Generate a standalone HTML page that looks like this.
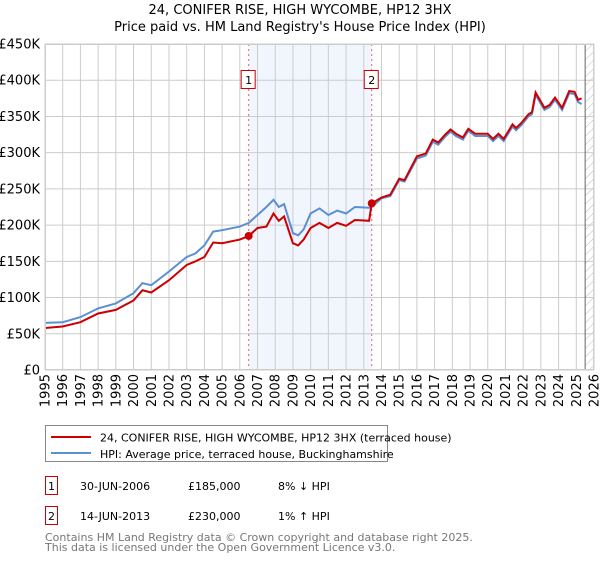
<!DOCTYPE html>
<html><head><meta charset="utf-8"><style>
body{margin:0;background:#fff;font-family:"DejaVu Sans","Liberation Sans",sans-serif;}
svg text{font-family:"DejaVu Sans","Liberation Sans",sans-serif;}
</style></head><body>
<svg id="chart" width="600" height="560" xmlns="http://www.w3.org/2000/svg">
<defs><pattern id="hatch" patternUnits="userSpaceOnUse" width="6" height="6" patternTransform="rotate(45)"><line x1="0" y1="0" x2="0" y2="6" stroke="#bbb" stroke-width="1"/></pattern></defs>
<text x="300" y="14" text-anchor="middle" font-size="13">24, CONIFER RISE, HIGH WYCOMBE, HP12 3HX</text>
<text x="300" y="31" text-anchor="middle" font-size="13">Price paid vs. HM Land Registry's House Price Index (HPI)</text>
<g id="plot"></g>
<rect x="45.5" y="425.5" width="342" height="36" fill="#fff" stroke="#888"/>
<line x1="51" y1="437" x2="91" y2="437" stroke="#cc0000" stroke-width="2"/>
<text x="100" y="441.5" font-size="11">24, CONIFER RISE, HIGH WYCOMBE, HP12 3HX (terraced house)</text>
<line x1="51" y1="453" x2="91" y2="453" stroke="#5b8fd4" stroke-width="2"/>
<text x="100" y="458" font-size="11">HPI: Average price, terraced house, Buckinghamshire</text>
<g font-size="11">
<rect x="45.5" y="476.5" width="12" height="18" fill="#fff" stroke="#cc0000"/><text x="51.5" y="490" text-anchor="middle">1</text>
<text x="80" y="490">30-JUN-2006</text><text x="188" y="490">£185,000</text><text x="278" y="490">8% ↓ HPI</text></g>
<g font-size="11">
<rect x="45.5" y="506.5" width="12" height="18" fill="#fff" stroke="#cc0000"/><text x="51.5" y="520" text-anchor="middle">2</text>
<text x="80" y="520">14-JUN-2013</text><text x="188" y="520">£230,000</text><text x="278" y="520">1% ↑ HPI</text></g>
<text x="45" y="541" font-size="11" fill="#777">Contains HM Land Registry data © Crown copyright and database right 2025.</text>
<text x="45" y="551" font-size="11" fill="#777">This data is licensed under the Open Government Licence v3.0.</text>
</svg>
<script>
const dates=[1995,1996,1997,1998,1999,2000,2000.5,2001,2002,2003,2003.5,2004,2004.5,2005,2006,2006.5,2007,2007.5,2007.9,2008.2,2008.5,2009,2009.3,2009.6,2010,2010.5,2011,2011.5,2012,2012.5,2013.3,2013.45,2014,2014.5,2015,2015.3,2016,2016.5,2016.9,2017.2,2017.6,2017.9,2018.2,2018.6,2018.9,2019.3,2020,2020.3,2020.6,2020.9,2021.4,2021.6,2021.9,2022.3,2022.5,2022.7,2023.2,2023.5,2023.8,2024.2,2024.6,2024.9,2025.1,2025.3];
const hpiValues=[65,66,73,85,92,106,120,117,136,156,161,172,191,193,198,203,214,225,235,225,229,189,186,194,216,223,214,220,216,225,224,225,237,240,262,260,292,296,315,311,322,329,323,318,330,323,323,316,323,316,336,331,338,350,353,380,359,363,373,359,382,381,370,367];
const priceValues=[58,60,66,78,83,96,110,107,124,145,150,156,176,175,180,185,196,198,216,206,212,175,172,180,196,203,196,203,199,207,206,230,238,242,264,262,295,299,318,314,325,332,326,321,333,326,326,319,326,319,339,334,341,353,356,383,362,366,376,362,385,384,373,375];
const saleDates=[2006.5,2013.45];
const saleValues=[185,230];
const saleLabels=["1","2"];
const yTicks=[0,50,100,150,200,250,300,350,400,450];
const yTickLabels=["£0","£50K","£100K","£150K","£200K","£250K","£300K","£350K","£400K","£450K"];
const xYears=[1995,1996,1997,1998,1999,2000,2001,2002,2003,2004,2005,2006,2007,2008,2009,2010,2011,2012,2013,2014,2015,2016,2017,2018,2019,2020,2021,2022,2023,2024,2025,2026];

const L=45,R=594,T=44,B=370,X0=1995,X1=2026,YMAX=450;
const xs=v=>L+(v-X0)/(X1-X0)*(R-L);
const ys=v=>B-v/YMAX*(B-T);
const NS="http://www.w3.org/2000/svg";
const g=document.getElementById('plot');
function mk(t,a,p){const e=document.createElementNS(NS,t);for(const k in a)e.setAttribute(k,a[k]);(p||g).appendChild(e);return e;}
// shaded period
const sh=mk('rect',{x:xs(saleDates[0]),y:T,width:xs(saleDates[1])-xs(saleDates[0]),height:B-T,fill:'#eef3fc',opacity:0.8});


const ht=mk('rect',{x:xs(2025.5),y:T,width:R-xs(2025.5),height:B-T,fill:'url(#hatch)'});


// grid
yTicks.forEach((v,i)=>{
  const l=mk('line',{x1:L,x2:R,y1:ys(v),y2:ys(v),stroke:'#ccc'});
  
  
  const t=mk('text',{x:L-5,y:ys(v)+4.5,'text-anchor':'end','font-size':'13'});
  
  
  t.textContent=yTickLabels[i];
});
xYears.forEach(v=>{
  const l=mk('line',{x1:xs(v),x2:xs(v),y1:T,y2:B,stroke:'#ccc'});
  
  
  const t=mk('text',{x:0,y:0,'text-anchor':'end','font-size':'13',transform:`translate(${xs(v)+4.5},${B+4}) rotate(-90)`});
  
  
  t.textContent=v;
});
const vl=mk('line',{x1:xs(2025.5),x2:xs(2025.5),y1:T,y2:B,stroke:'#666'});


// sale markers lines
saleDates.forEach((d,i)=>{
  const l=mk('line',{x1:xs(d),x2:xs(d),y1:T,y2:B,stroke:'#e06666','stroke-dasharray':'2,3'});
  
  
  const b=mk('rect',{x:xs(d)-7.5,y:70.5,width:14,height:18,fill:'#fff',stroke:'#cc0000'});
  
  
  const t=mk('text',{x:xs(d),y:84,'text-anchor':'middle','font-size':'11'});
  
  
  t.textContent=saleLabels[i];
});
function path(vals){return vals.map((v,i)=>(i?'L':'M')+xs(dates[i]).toFixed(1)+','+ys(v).toFixed(1)).join('');}
const hp=mk('path',{d:path(hpiValues),fill:'none',stroke:'#5b8fd4','stroke-width':2});


const pp=mk('path',{d:path(priceValues),fill:'none',stroke:'#cc0000','stroke-width':2});


saleDates.forEach((d,i)=>{
  const c=mk('circle',{cx:xs(d),cy:ys(saleValues[i]),r:4,fill:'#cc0000'});
  
  
});
const fr=mk('rect',{x:L+0.5,y:T+0.5,width:R-L-1,height:B-T-1,fill:'none',stroke:'#ccc'});


</script>
</body></html>
